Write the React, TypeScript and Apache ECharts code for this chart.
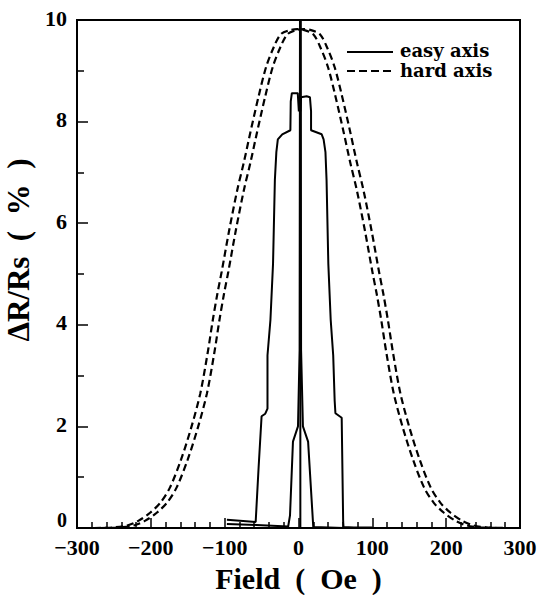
import React, { useEffect, useRef } from "react";
import * as echarts from "echarts";

// Axis ticks
const xTickValues = [-300, -200, -100, 0, 100, 200, 300];
const yTickValues = [0, 2, 4, 6, 8, 10];
const legendNames = ["easy axis", "hard axis"];

// hard axis: two dashed curves (Field Oe, ΔR/Rs %)
const hardA: [number, number][] = [
  [-277, 0], [-252, 0.01], [-232, 0.05], [-217, 0.14], [-201, 0.3], [-187, 0.5], [-174, 0.8],
  [-159, 1.35], [-145, 1.99], [-133, 2.65], [-123, 3.45], [-116, 4.1], [-110, 4.6], [-104, 5.05],
  [-94, 5.85], [-83, 6.65], [-74, 7.2], [-65, 7.8], [-54, 8.5], [-44, 9.07], [-34, 9.45],
  [-24, 9.72], [-12, 9.8], [-2, 9.82], [8, 9.8], [20, 9.72], [30, 9.45], [40, 9.07], [50, 8.5],
  [61, 7.8], [70, 7.2], [79, 6.65], [90, 5.85], [100, 5.05], [106, 4.6], [112, 4.1], [119, 3.45],
  [129, 2.65], [141, 1.99], [155, 1.35], [170, 0.8], [183, 0.5], [197, 0.3], [213, 0.14],
  [228, 0.05], [248, 0.01], [273, 0],
];
const hardB: [number, number][] = [
  [-268, 0], [-243, 0.01], [-223, 0.05], [-208, 0.14], [-192, 0.3], [-178, 0.5], [-165, 0.8],
  [-150, 1.35], [-136, 1.99], [-124, 2.65], [-114, 3.45], [-107, 4.1], [-101, 4.6], [-95, 5.05],
  [-85, 5.85], [-74, 6.65], [-65, 7.2], [-56, 7.8], [-45, 8.5], [-35, 9.07], [-25, 9.45],
  [-15, 9.72], [-3, 9.8], [7, 9.82], [17, 9.8], [29, 9.72], [39, 9.45], [49, 9.07], [59, 8.5],
  [70, 7.8], [79, 7.2], [88, 6.65], [99, 5.85], [109, 5.05], [115, 4.6], [121, 4.1], [128, 3.45],
  [138, 2.65], [150, 1.99], [164, 1.35], [179, 0.8], [192, 0.5], [206, 0.3], [222, 0.14],
  [237, 0.05], [257, 0.01], [282, 0],
];

// easy axis: solid loop pieces
const easyOuterLeft: [number, number][] = [
  [-97, 0.16], [-75, 0.14], [-58, 0.12], [-54, 1.2], [-50, 2.2], [-45, 2.25], [-42, 2.35],
  [-42, 3.4], [-38, 4.1], [-34.5, 5.2], [-32, 6.85], [-30, 7.4], [-28, 7.65], [-22, 7.75],
  [-11, 7.83], [-10.5, 8.4], [-9, 8.56], [-1, 8.56], [0.5, 8.2],
];
const easyOuterRight: [number, number][] = [
  [100, 0.01], [75, 0.01], [61, 0.02], [60.5, 0.12], [58.5, 2.17], [50, 2.26], [49, 2.5],
  [47, 3.4], [43.6, 4.1], [40.4, 5.2], [38, 6.85], [36.5, 7.4], [34, 7.65], [31.4, 7.75],
  [17, 7.83], [17, 8.2], [15.5, 8.48], [11, 8.5], [3.5, 8.48], [2.5, 8.2],
];
const easyInnerLeft: [number, number][] = [
  [-97, 0.08], [-57, 0.06], [-14, 0.03], [-11.5, 0.25], [-7.5, 1.7], [-0.7, 2.0], [1.5, 3.5], [2, 10],
];
const easyInnerRight: [number, number][] = [
  [61, 0], [20, 0.02], [13, 1.7], [6, 2.0], [3.5, 3.5], [3, 10],
];
const easyCenter: [number, number][] = [[2.5, 0], [2.5, 10]];

const serif = "DejaVu Serif";
const times = "Liberation Serif";

export default function App() {
  const ref = useRef<HTMLDivElement>(null);
  useEffect(() => {
    if (!ref.current) return;
    const chart = echarts.init(ref.current, null, { renderer: "svg" });
    const solid = (data: [number, number][]) => ({
      type: "line",
      name: legendNames[0],
      data,
      symbol: "none",
      showSymbol: false,
      itemStyle: { color: "#000" },
      lineStyle: { color: "#000", width: 2 },
    });
    const dashed = (data: [number, number][]) => ({
      type: "line",
      name: legendNames[1],
      data,
      symbol: "none",
      showSymbol: false,
      smooth: 0.3,
      itemStyle: { color: "#000" },
      lineStyle: { color: "#000", width: 2.2, type: [7, 4] },
    });
    const legendText = (y: number, text: string) => ({
      type: "text",
      x: 400,
      y,
      style: {
        text,
        fill: "#000",
        font: `bold 18px "${serif}"`,
        lineHeight: 16,
        verticalAlign: "middle",
      },
    });
    chart.setOption({
      animation: false,
      backgroundColor: "#fff",
      grid: {
        left: 77, right: 20, top: 20, bottom: 67,
        containLabel: false,
        outerBoundsMode: "none",
        show: true, borderColor: "#000", borderWidth: 2,
      },
      graphic: [
        {
          type: "line",
          shape: { x1: 347, y1: 52, x2: 393, y2: 52 },
          style: { stroke: "#000", lineWidth: 2 },
        },
        {
          type: "line",
          shape: { x1: 347, y1: 71, x2: 393, y2: 71 },
          style: { stroke: "#000", lineWidth: 2, lineDash: [8, 4] },
        },
        legendText(50, legendNames[0]),
        legendText(70, legendNames[1]),
      ],
      xAxis: {
        type: "value",
        min: xTickValues[0],
        max: xTickValues[xTickValues.length - 1],
        interval: 100,
        name: "Field  (  Oe  )",
        nameLocation: "middle",
        nameGap: 27,
        nameTextStyle: { fontFamily: times, fontWeight: "bold", fontSize: 30, color: "#000", lineHeight: 30 },
        axisLine: { show: true, onZero: false, lineStyle: { color: "#000", width: 2 } },
        axisTick: { show: true, inside: true, length: 10, lineStyle: { color: "#000", width: 1.5 } },
        minorTick: { show: true, splitNumber: 5, length: 6, lineStyle: { color: "#000", width: 1.5 } },
        splitLine: { show: false },
        axisLabel: {
          margin: 11,
          lineHeight: 17,
          fontFamily: times, fontWeight: "bold", fontSize: 22, color: "#000",
          formatter: (v: number) => (xTickValues.includes(v) ? String(v).replace("-", "\u2212") : ""),
        },
      },
      yAxis: {
        type: "value",
        min: yTickValues[0],
        max: yTickValues[yTickValues.length - 1],
        interval: 2,
        name: "\u0394R/Rs  (  %  )",
        nameLocation: "middle",
        nameRotate: 90,
        nameGap: 30,
        nameTextStyle: {
          fontFamily: times, fontWeight: "bold", fontSize: 31, color: "#000",
          padding: [0, 0, 0, 48],
        },
        axisLine: { show: true, onZero: false, lineStyle: { color: "#000", width: 2 } },
        axisTick: { show: true, inside: true, length: 11, lineStyle: { color: "#000", width: 1.5 } },
        minorTick: { show: true, splitNumber: 2, length: 7, lineStyle: { color: "#000", width: 1.5 } },
        splitLine: { show: false },
        axisLabel: {
          margin: 10,
          lineHeight: 16,
          padding: [0, 0, 4, 0],
          fontFamily: times, fontWeight: "bold", fontSize: 22, color: "#000",
          formatter: (v: number) =>
            v === yTickValues[0] ? `{z|${v}}` : yTickValues.includes(v) ? String(v) : "",
          rich: {
            z: {
              fontFamily: times, fontWeight: "bold", fontSize: 20, color: "#000",
              lineHeight: 14, padding: [0, 0, 12, 0],
            },
          },
        },
      },
      series: [
        dashed(hardA),
        dashed(hardB),
        solid(easyOuterLeft),
        solid(easyOuterRight),
        solid(easyInnerLeft),
        solid(easyInnerRight),
        solid(easyCenter),
      ],
    });
    return () => chart.dispose();
  }, []);
  return <div ref={ref} style={{ width: 540, height: 595, position: "absolute", left: 0, top: 0 }} />;
}
